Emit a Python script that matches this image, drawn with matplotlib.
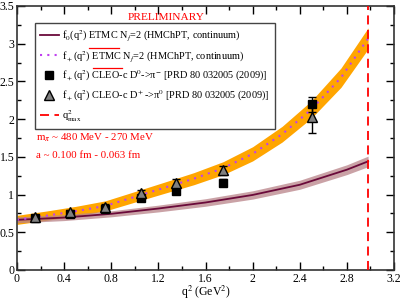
import numpy as np
import matplotlib
matplotlib.use("Agg")
import matplotlib.pyplot as plt
from matplotlib.lines import Line2D

plt.rcParams['font.family'] = ['Liberation Serif', 'DejaVu Serif']
plt.rcParams['mathtext.fontset'] = 'stix'
plt.rcParams['font.size'] = 7.5

# lattice fit curves
q2_f0 = [0.0, 0.4, 0.8, 1.2, 1.6, 2.0, 2.4, 2.8, 2.98]
f0 = [0.665, 0.695, 0.745, 0.815, 0.895, 0.995, 1.13, 1.33, 1.44]
f0_err = [0.04, 0.04, 0.04, 0.045, 0.05, 0.055, 0.06, 0.065, 0.07]

q2_fp = [0.0, 0.25, 0.5, 0.75, 1.0, 1.25, 1.5, 1.75, 2.0, 2.25, 2.5, 2.75, 2.98]
fp = [0.665, 0.72, 0.78, 0.85, 0.97, 1.09, 1.21, 1.35, 1.54, 1.80, 2.13, 2.55, 3.07]
fp_err = [0.06, 0.062, 0.064, 0.067, 0.07, 0.074, 0.08, 0.086, 0.094, 0.104, 0.115, 0.128, 0.14]

# CLEO-c data
q2_data = [0.15, 0.45, 0.75, 1.05, 1.35, 1.75, 2.5]
d0_pim = [0.69, 0.74, 0.805, 0.95, 1.05, 1.16, 2.20]
d0_pim_err = [0.02, 0.02, 0.025, 0.03, 0.04, 0.05, 0.10]
dp_pi0 = [0.70, 0.77, 0.84, 1.02, 1.15, 1.32, 2.03]
dp_pi0_err = [0.02, 0.03, 0.035, 0.04, 0.05, 0.06, 0.21]

q2_max = 2.98

labels = [r'f$_0$(q$^2$) ETMC N$_f$=2 (HMChPT, continuum)',
          r'f$_+$(q$^2$) ETMC N$_f$=2 (HMChPT, continuum)',
          r'f$_+$(q$^2$) CLEO-c D$^0$->π$^{-}$ [PRD 80 032005 (2009)]',
          r'f$_+$(q$^2$) CLEO-c D$^+$->π$^0$ [PRD 80 032005 (2009)]',
          r'q$^2_{\rm max}$']

fig = plt.figure(figsize=(4.01, 3.0), dpi=100)
ax = fig.add_axes([17/401, 30/300, 377/401, 264/300])

ax.fill_between(q2_fp, np.array(fp) - fp_err, np.array(fp) + fp_err,
                color='#ffa500', lw=0, zorder=1)
ax.fill_between(q2_f0, np.array(f0) - f0_err, np.array(f0) + f0_err,
                color='#b98389', alpha=0.75, lw=0, zorder=1)
l0, = ax.plot(q2_f0, f0, color='#6a0a3a', lw=1.3, zorder=2)
lp, = ax.plot(q2_fp, fp, color='#c040f0', lw=1.5, ls=(0, (1, 2.5)), zorder=2)

ax.errorbar(q2_data, d0_pim, yerr=d0_pim_err, fmt='s', ms=6,
            mfc='black', mec='black', ecolor='black', elinewidth=1, capsize=3,
            zorder=3)
ax.errorbar(q2_data, dp_pi0, yerr=dp_pi0_err, fmt='^', ms=7,
            mfc='#808080', mec='black', ecolor='black', elinewidth=1, capsize=3,
            zorder=4)

lq = ax.axvline(q2_max, color='red', ls=(0, (5, 3)), lw=1.3, zorder=5)

ax.set_xlim(0, 3.2)
ax.set_ylim(0, 3.5)
ax.set_xticks(np.arange(0, 3.21, 0.4))
ax.set_xticklabels(['0', '0.4', '0.8', '1.2', '1.6', '2', '2.4', '2.8', '3.2'])
ax.set_xticks(np.arange(0, 3.21, 0.2), minor=True)
ax.set_yticks(np.arange(0, 3.51, 0.5))
ax.set_yticklabels(['0', '0.5', '1', '1.5', '2', '2.5', '3', '3.5'])
ax.set_yticks(np.arange(0, 3.51, 0.25), minor=True)
ax.tick_params(which='both', direction='in', top=True, right=True, pad=2,
               labelsize=8.5)
ax.tick_params(which='major', length=6, width=1)
ax.tick_params(which='minor', length=3, width=1)
for s in ax.spines.values():
    s.set_linewidth(1.2)
    s.set_color('#333333')

ax.set_xlabel(r'q$^2$ (GeV$^2$)', labelpad=-1, fontsize=8.5)

h_sq = Line2D([], [], ls='none', marker='s', ms=6, mfc='black', mec='black')
h_tr = Line2D([], [], ls='none', marker='^', ms=7, mfc='#808080', mec='black')
leg = ax.legend([l0, lp, h_sq, h_tr, lq], labels,
                loc='upper left', bbox_to_anchor=(0.048, 0.934), borderaxespad=0,
                fancybox=False, framealpha=1, edgecolor='#444444',
                handlelength=1.8, labelspacing=0.5, borderpad=0.5,
                handletextpad=0.35, fontsize=7.4)
leg.get_frame().set_linewidth(1.0)
leg.set_zorder(6)

ax.text(0.395, 0.955, 'PRELIMINARY', transform=ax.transAxes, color='red',
        fontsize=8.2, ha='center', va='center')
ax.text(0.05, 0.50, r'm$_\pi$ ~ 480 MeV - 270 MeV', transform=ax.transAxes,
        color='red', fontsize=7.8, va='center', zorder=7)
ax.text(0.05, 0.432, 'a ~ 0.100 fm - 0.063 fm', transform=ax.transAxes,
        color='red', fontsize=7.8, va='center', zorder=7)

# red underline under "ETMC" in the first two legend labels
fig.canvas.draw()
r = fig.canvas.get_renderer()
for t in leg.get_texts()[:2]:
    bb = t.get_window_extent(r)
    full = t.get_text()
    pre = full.split('ETMC')[0]
    tmp = fig.text(0, 0, pre, fontproperties=t.get_fontproperties())
    w_pre = tmp.get_window_extent(r).width
    tmp.set_text(pre + 'ETMC')
    w_all = tmp.get_window_extent(r).width
    tmp.remove()
    y = (bb.y0 + bb.y1) / 2 - 11.5
    fig.add_artist(Line2D([(bb.x0 + w_pre + 1) / 401, (bb.x0 + w_all) / 401],
                          [y / 300, y / 300], color='red', lw=0.9, zorder=8))

fig.savefig('out.png', dpi=100)
